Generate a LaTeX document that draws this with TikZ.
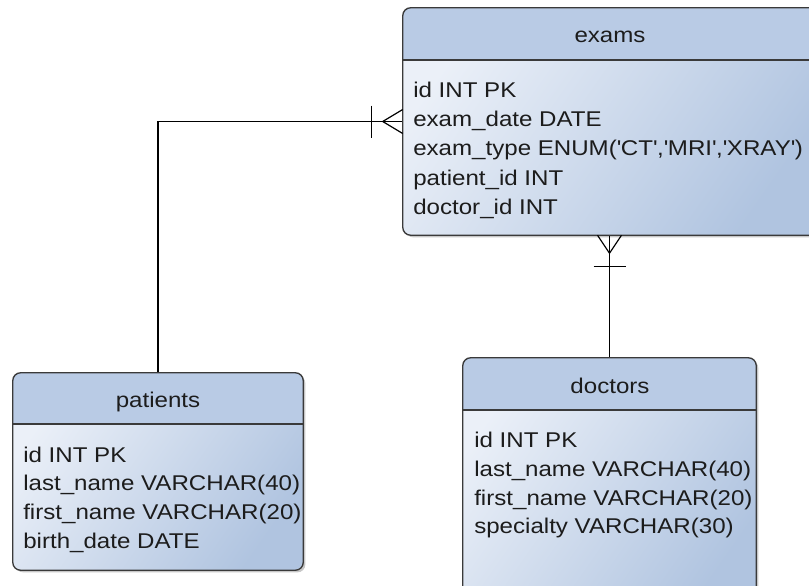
\documentclass[tikz,border=0pt]{standalone}
\usepackage{fontspec}
\setmainfont{Liberation Sans}[FakeStretch=1.13]
\usetikzlibrary{fit,shadows,calc}
\definecolor{hdr}{HTML}{B9CBE5}
\definecolor{bodylight}{HTML}{EBF0F8}
\definecolor{bodydark}{HTML}{B0C4E0}
\definecolor{bordercol}{HTML}{3A3A3A}
\definecolor{txtcol}{HTML}{1C1C1C}
\tikzset{
  tbl/.style={inner sep=0pt, rounded corners=6pt, top color=bodylight, bottom color=bodydark, shading angle=55,
    drop shadow={shadow xshift=1.8pt, shadow yshift=-1.8pt, opacity=0.22, fill=black}},
  borderline/.style={draw=bordercol, line width=1pt},
  conn/.style={draw=black, line width=0.9pt},
  attr/.style={anchor=base west, inner sep=0pt, text=txtcol, font=\fontsize{16pt}{19pt}\selectfont},
  ttl/.style={anchor=base, inner sep=0pt, text=txtcol, font=\fontsize{16pt}{19pt}\selectfont}
}
\newcommand\q{\textquotesingle}
\newcommand\ertable[6]{%
  \coordinate (#1-nw) at (#2,#3);
  \coordinate (#1-se) at (#4,#5);
  \node[tbl, fit=(#1-nw)(#1-se)] (#1) {};
  \begin{scope}
    \clip[rounded corners=6pt] (#1.north west) rectangle (#1.south east);
    \fill[hdr] (#1.north west) rectangle (#4,#6);
  \end{scope}
  \draw[borderline] (#2,#6) -- (#4,#6);
  \draw[borderline, rounded corners=6pt] (#1.north west) rectangle (#1.south east);
}
\begin{document}
\begin{tikzpicture}[x=0.75pt,y=-0.75pt]
\useasboundingbox (0,0) rectangle (809,585);
\clip (0,0) rectangle (809,585);
\fill[white] (0,0) rectangle (809,585);

% connectors
\draw[conn] (158,373) |- (403,121.5);
\draw[conn] (609.5,235) -- (609.5,358);

% tables
\ertable{exams}{403}{8}{818}{235}{60}
\ertable{patients}{13}{373}{303}{570}{424}
\ertable{doctors}{463}{358}{756}{610}{410}

% crow's feet
\draw[conn] ($(exams.west)+(-20,0)$) -- ($(exams.west)+(0,-12)$);
\draw[conn] ($(exams.west)+(-20,0)$) -- ($(exams.west)+(0,12)$);
\draw[conn] ($(exams.west)+(-31,-16)$) -- ($(exams.west)+(-31,16)$);
\coordinate (dtop) at (doctors.north |- exams.south);
\draw[conn] ($(dtop)+(0,18)$) -- ($(dtop)+(-12,0)$);
\draw[conn] ($(dtop)+(0,18)$) -- ($(dtop)+(12,0)$);
\draw[conn] ($(dtop)+(-16,31)$) -- ($(dtop)+(16,31)$);

% exams text
\node[ttl] (exams-t) at (610,43) {exams};
\node[attr] (exams-a1) at (413,97) {id INT PK};
\node[attr] (exams-a2) at (413,126) {exam\_date DATE};
\node[attr] (exams-a3) at (413,155.5) {exam\_type ENUM(\q CT\q,\q MRI\q,\q XRAY\q)};
\node[attr] (exams-a4) at (413,185) {patient\_id INT};
\node[attr] (exams-a5) at (413,214.5) {doctor\_id INT};

% patients text
\node[ttl] (patients-t) at (158,407) {patients};
\begin{scope}
  \clip (patients.north west) rectangle (patients.south east);
  \node[attr] (patients-a1) at (23,462) {id INT PK};
  \node[attr] (patients-a2) at (23,490.5) {last\_name VARCHAR(40)};
  \node[attr] (patients-a3) at (23,519) {first\_name VARCHAR(20)};
  \node[attr] (patients-a4) at (23,548) {birth\_date DATE};
\end{scope}

% doctors text
\node[ttl] (doctors-t) at (610,393) {doctors};
\begin{scope}
  \clip (doctors.north west) rectangle (doctors.south east);
  \node[attr] (doctors-a1) at (474,447) {id INT PK};
  \node[attr] (doctors-a2) at (474,476) {last\_name VARCHAR(40)};
  \node[attr] (doctors-a3) at (474,505) {first\_name VARCHAR(20)};
  \node[attr] (doctors-a4) at (474,533) {specialty VARCHAR(30)};
\end{scope}
\end{tikzpicture}
\end{document}
